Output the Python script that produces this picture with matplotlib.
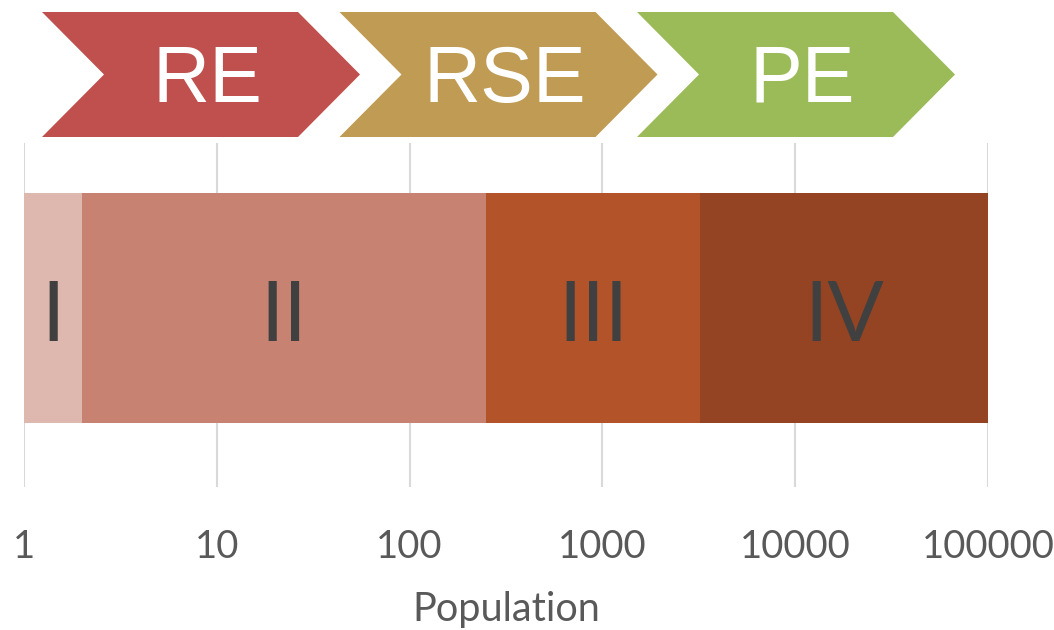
import matplotlib
matplotlib.use("Agg")
import matplotlib.pyplot as plt
from matplotlib.patches import Polygon
import numpy as np

# Population classes along a logarithmic axis
class_labels = ["I", "II", "III", "IV"]
class_bounds = [1, 2, 250, 3200, 100000]
class_colors = ["#DEB8AF", "#C88272", "#B2532A", "#944422"]

# Process stages shown as chevrons above the axis
stage_labels = ["RE", "RSE", "PE"]
stage_colors = ["#C0504D", "#BF9B53", "#9BBB59"]

tick_values = [1, 10, 100, 1000, 10000, 100000]
tick_labels = ["1", "10", "100", "1000", "10000", "100000"]

W, H = 1054, 630
fig = plt.figure(figsize=(W / 100, H / 100), dpi=100)

# plot area in pixel units
ax_left, ax_right, ax_top, ax_bottom = 24, 988, 143, 487
ax = fig.add_axes([ax_left / W, 1 - ax_bottom / H,
                   (ax_right - ax_left) / W, (ax_bottom - ax_top) / H])
ax.set_xscale("log")
ax.set_xlim(tick_values[0], tick_values[-1])
ax.set_ylim(-0.52, 0.48)

bar_height = 0.67
for lo, hi, col, lab in zip(class_bounds[:-1], class_bounds[1:], class_colors, class_labels):
    ax.barh(0, hi - lo, left=lo, height=bar_height, color=col, zorder=2)
    ax.text(np.sqrt(lo * hi), -0.096, lab, ha="center", va="baseline",
            fontsize=60, family="Lato", color="#404040", zorder=3)

ax.set_xticks(tick_values)
ax.set_xticklabels(tick_labels)
ax.xaxis.set_minor_locator(matplotlib.ticker.NullLocator())
ax.tick_params(axis="x", length=0, pad=30, labelsize=27.5, labelcolor="#595959")
for t in ax.get_xticklabels():
    t.set_family("Lato")
ax.set_yticks([])
ax.grid(axis="x", color="#D9D9D9", linewidth=1.5, zorder=1)
for s in ax.spines.values():
    s.set_visible(False)

ax.set_xlabel("Population", fontsize=28.5, family="Lato", color="#595959", labelpad=19)

# chevrons drawn in figure pixel space
def px(x, y):
    return (x / W, 1 - y / H)

chev_x0, chev_step, chev_w, chev_depth = 42, 297.5, 318, 62
chev_top, chev_bot = 12, 137
chev_mid = (chev_top + chev_bot) / 2
for i, (lab, col) in enumerate(zip(stage_labels, stage_colors)):
    x0 = chev_x0 + i * chev_step
    pts = [px(x0, chev_top), px(x0 + chev_w - chev_depth, chev_top),
           px(x0 + chev_w, chev_mid), px(x0 + chev_w - chev_depth, chev_bot),
           px(x0, chev_bot), px(x0 + chev_depth, chev_mid)]
    fig.patches.append(Polygon(pts, closed=True, transform=fig.transFigure,
                               facecolor=col, edgecolor="none"))
    tx, ty = px(x0 + chev_w / 2 + 6, 102)
    fig.text(tx, ty, lab, ha="center", va="baseline", fontsize=57,
             family="Liberation Sans", color="white")

fig.savefig("out.png", dpi=100, facecolor="white")
